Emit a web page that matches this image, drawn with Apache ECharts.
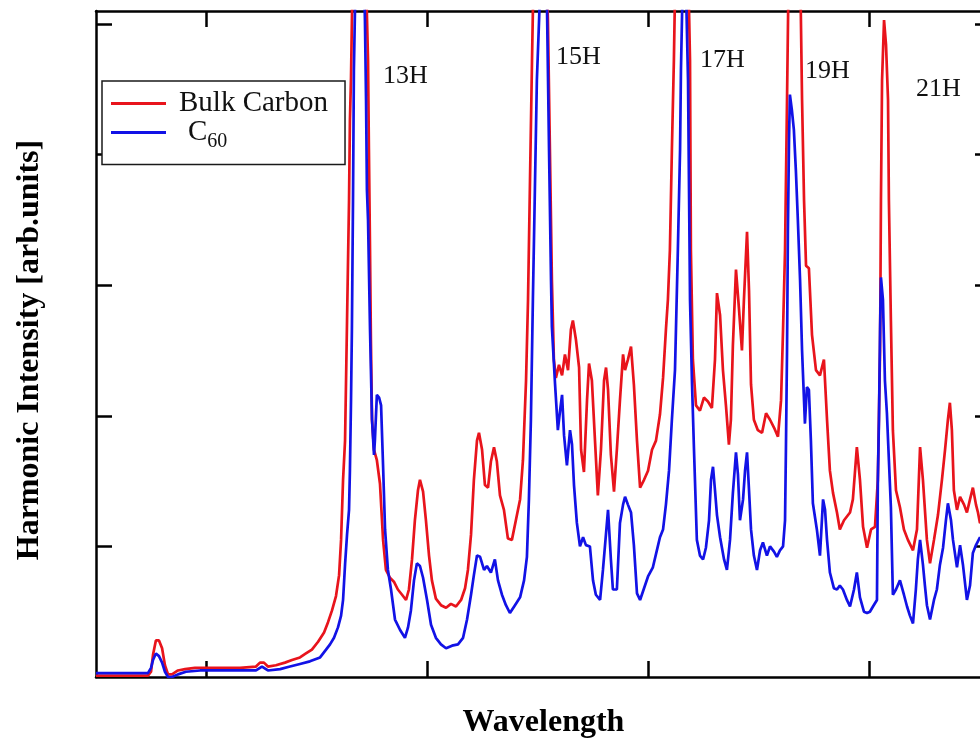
<!DOCTYPE html>
<html>
<head>
<meta charset="utf-8">
<style>
  html, body { margin: 0; padding: 0; background: #ffffff; }
  #chart { width: 980px; height: 740px; }
</style>
<script src="https://cdn.jsdelivr.net/npm/echarts@6/dist/echarts.min.js"></script>
</head>
<body>
<div id="chart"></div>
<script>
// Harmonic spectra, wavelength in nm, intensity in arbitrary units.
const bulkWl = [75.00,73.91,72.65,72.51,72.42,72.29,72.15,72.01,71.88,71.74,71.56,71.29,70.97,70.52,69.62,68.48,67.76,67.58,67.40,67.22,66.86,66.45,66.13,65.77,65.50,65.23,64.95,64.68,64.50,64.32,64.14,64.00,63.91,63.82,63.73,63.64,63.55,63.51,63.46,63.42,63.37,63.14,62.92,62.78,62.69,62.65,62.60,62.56,62.51,62.42,62.29,62.15,62.01,61.88,61.70,61.52,61.34,61.15,60.97,60.84,60.70,60.57,60.43,60.34,60.20,60.07,59.93,59.80,59.62,59.39,59.16,58.94,58.71,58.48,58.30,58.17,58.03,57.90,57.76,57.67,57.53,57.40,57.26,57.13,56.99,56.86,56.72,56.54,56.36,56.18,56.00,55.81,55.68,55.54,55.45,55.36,55.27,55.18,54.91,54.64,54.55,54.46,54.37,54.28,54.19,54.05,53.91,53.78,53.64,53.51,53.42,53.28,53.14,53.05,52.92,52.78,52.69,52.56,52.42,52.29,52.15,52.01,51.92,51.83,51.70,51.56,51.43,51.29,51.15,51.06,50.93,50.79,50.66,50.52,50.38,50.20,50.02,49.84,49.66,49.48,49.34,49.21,49.12,49.03,48.94,48.85,48.76,48.48,48.21,48.12,48.08,47.99,47.85,47.67,47.49,47.31,47.13,46.99,46.90,46.76,46.63,46.49,46.36,46.27,46.18,46.04,45.90,45.77,45.68,45.54,45.45,45.36,45.23,45.05,44.86,44.68,44.50,44.32,44.14,44.00,43.91,43.82,43.73,43.64,43.37,43.14,43.05,42.96,42.87,42.74,42.60,42.42,42.24,42.06,41.92,41.79,41.65,41.47,41.34,41.15,40.88,40.75,40.57,40.43,40.29,40.11,39.93,39.75,39.62,39.52,39.48,39.43,39.34,39.25,39.16,39.12,39.03,38.94,38.80,38.62,38.44,38.26,38.03,37.85,37.71,37.58,37.40,37.26,37.08,36.90,36.72,36.58,36.45,36.36,36.27,36.18,36.04,35.90,35.72,35.59,35.45,35.32,35.18,35.09,35.00,34.82];
const bulkInt = [0.01,0.01,0.01,0.04,0.17,0.28,0.28,0.22,0.09,0.02,0.02,0.05,0.06,0.07,0.07,0.07,0.08,0.11,0.11,0.08,0.09,0.11,0.13,0.15,0.18,0.21,0.27,0.34,0.42,0.51,0.62,0.78,1.05,1.51,1.81,2.73,3.65,4.26,4.59,5.03,5.49,6.10,5.95,5.34,4.72,4.04,3.27,2.58,1.97,1.74,1.66,1.48,1.05,0.82,0.76,0.73,0.67,0.63,0.59,0.67,0.90,1.20,1.43,1.51,1.42,1.20,0.93,0.74,0.60,0.55,0.53,0.56,0.54,0.59,0.68,0.82,1.09,1.51,1.81,1.87,1.74,1.47,1.45,1.65,1.76,1.65,1.39,1.28,1.06,1.05,1.20,1.36,1.66,2.27,2.89,3.81,4.72,5.57,5.95,5.57,5.03,4.04,3.04,2.43,2.29,2.39,2.31,2.47,2.35,2.66,2.73,2.58,2.37,1.74,1.57,2.12,2.40,2.27,1.81,1.39,1.74,2.27,2.37,2.20,1.70,1.42,1.74,2.12,2.47,2.35,2.43,2.53,2.24,1.81,1.45,1.51,1.58,1.74,1.81,2.01,2.29,2.66,2.89,3.27,4.04,4.72,5.64,6.10,5.49,4.72,3.27,2.43,2.08,2.04,2.14,2.11,2.06,2.43,2.94,2.77,2.35,2.07,1.78,1.97,2.54,3.12,2.81,2.50,2.89,3.41,2.96,2.24,1.97,1.89,1.87,2.02,1.97,1.91,1.84,2.12,2.66,3.27,4.42,5.64,6.10,5.49,4.42,3.65,3.15,3.13,2.62,2.35,2.31,2.43,1.97,1.58,1.41,1.26,1.13,1.20,1.26,1.36,1.76,1.51,1.15,0.99,1.13,1.15,1.51,2.50,3.65,4.57,5.03,4.84,4.42,3.65,2.73,1.89,1.43,1.30,1.13,1.05,0.97,1.13,1.76,1.51,1.05,0.87,1.05,1.24,1.51,1.74,1.97,2.10,1.89,1.43,1.28,1.38,1.32,1.26,1.36,1.45,1.32,1.26,1.18,1.20];

const c60Wl = [75.00,72.65,72.51,72.42,72.29,72.15,72.01,71.88,71.74,71.56,71.29,70.93,70.29,68.94,67.76,67.49,67.22,66.67,66.22,65.77,65.32,64.86,64.59,64.41,64.23,64.05,63.91,63.82,63.73,63.64,63.55,63.51,63.46,63.42,63.37,63.33,63.24,63.05,62.87,62.83,62.78,62.74,62.69,62.60,62.51,62.42,62.38,62.29,62.19,62.10,62.01,61.92,61.79,61.65,61.47,61.24,61.02,60.88,60.75,60.61,60.48,60.34,60.20,60.02,59.84,59.62,59.39,59.16,58.89,58.62,58.39,58.21,58.03,57.90,57.76,57.62,57.44,57.31,57.13,56.95,56.81,56.63,56.45,56.27,56.04,55.81,55.63,55.50,55.41,55.32,55.23,55.14,55.05,54.95,54.86,54.68,54.59,54.50,54.41,54.37,54.23,54.10,54.00,53.91,53.82,53.69,53.55,53.46,53.37,53.24,53.10,52.96,52.83,52.65,52.51,52.38,52.19,52.06,51.97,51.83,51.70,51.61,51.43,51.29,51.15,51.06,50.93,50.79,50.66,50.52,50.38,50.20,50.02,49.80,49.62,49.48,49.34,49.21,49.07,48.94,48.80,48.67,48.57,48.53,48.44,48.30,48.21,48.12,48.03,47.94,47.81,47.67,47.53,47.40,47.26,47.17,47.08,46.99,46.90,46.76,46.58,46.45,46.31,46.18,46.04,45.95,45.86,45.72,45.63,45.54,45.45,45.36,45.23,45.09,44.95,44.82,44.64,44.50,44.32,44.19,44.05,43.91,43.82,43.78,43.73,43.69,43.64,43.60,43.51,43.42,43.33,43.24,43.14,43.05,42.92,42.83,42.74,42.65,42.56,42.38,42.24,42.10,42.01,41.92,41.79,41.61,41.47,41.34,41.20,41.02,40.88,40.70,40.57,40.43,40.25,40.11,39.98,39.84,39.66,39.62,39.57,39.52,39.48,39.39,39.30,39.21,39.12,39.03,38.94,38.80,38.62,38.44,38.30,38.17,38.03,37.90,37.81,37.71,37.58,37.49,37.40,37.26,37.08,36.95,36.81,36.67,36.54,36.45,36.31,36.22,36.04,35.90,35.77,35.59,35.45,35.32,35.18,35.00,34.82];
const c60Int = [0.03,0.03,0.07,0.13,0.18,0.16,0.11,0.04,0.00,0.00,0.02,0.04,0.05,0.05,0.05,0.08,0.05,0.06,0.08,0.10,0.12,0.15,0.21,0.25,0.30,0.38,0.47,0.59,0.86,1.09,1.28,1.58,2.12,2.66,3.65,4.65,5.49,5.64,5.34,5.03,4.42,3.73,3.50,2.66,1.97,1.70,1.81,2.16,2.14,2.08,1.62,1.13,0.82,0.67,0.44,0.36,0.30,0.38,0.51,0.74,0.87,0.85,0.76,0.59,0.40,0.30,0.25,0.22,0.24,0.25,0.30,0.44,0.63,0.78,0.93,0.92,0.82,0.85,0.80,0.90,0.74,0.63,0.55,0.49,0.55,0.61,0.74,0.92,1.36,1.97,2.89,3.73,4.57,5.03,5.49,5.64,5.11,4.04,3.04,2.68,2.25,1.89,2.04,2.16,1.85,1.62,1.89,1.78,1.47,1.18,1.00,1.07,1.01,1.00,0.74,0.63,0.59,0.82,1.00,1.28,0.90,0.67,0.67,1.18,1.32,1.38,1.32,1.26,1.01,0.64,0.59,0.68,0.77,0.84,0.97,1.07,1.13,1.32,1.58,1.97,2.35,3.27,4.04,4.65,5.41,5.26,4.57,2.89,2.25,1.74,1.05,0.93,0.90,0.99,1.20,1.51,1.61,1.43,1.24,1.07,0.90,0.82,1.05,1.41,1.72,1.55,1.20,1.36,1.58,1.72,1.43,1.13,0.93,0.82,0.97,1.03,0.93,1.00,0.96,0.92,0.97,1.00,1.20,1.74,2.50,3.42,4.11,4.46,4.34,4.19,3.88,3.50,3.04,2.50,1.94,2.22,2.20,1.81,1.33,1.13,0.93,1.36,1.28,1.05,0.80,0.68,0.67,0.70,0.67,0.59,0.54,0.67,0.80,0.61,0.50,0.49,0.50,0.54,0.59,1.51,1.97,2.66,3.06,2.89,2.27,2.02,1.66,1.30,0.63,0.67,0.74,0.63,0.54,0.47,0.41,0.67,0.90,1.05,0.86,0.70,0.55,0.44,0.59,0.67,0.86,0.99,1.20,1.33,1.20,1.05,0.84,1.01,0.86,0.59,0.70,0.95,1.01,1.07,1.01];

// Frame ticks (no labels are printed on either axis)
const wlTicks = [40, 50, 60, 70];
const intTicks = [1, 2, 3, 4, 5];

// Harmonic order annotations
const harmonicNames = ['13H', '15H', '17H', '19H', '21H'];

const seriesNames = ['Bulk Carbon', 'C60'];
const seriesColors = ['#e8141c', '#1212e6'];

const zip = (xs, ys) => xs.map((x, i) => [x, ys[i]]);

const chart = echarts.init(document.getElementById('chart'), null, { renderer: 'canvas' });

const serif = '"Liberation Serif", "Times New Roman", serif';
const frameLine = { color: '#000', width: 2.5 };
const innerTick = (vals) => ({ show: true, inside: true, length: 16, customValues: vals, lineStyle: { color: '#000', width: 2.5 } });

const xBase = {
  type: 'value', min: 34.5, max: 75, inverse: true,
  axisLine: { show: true, onZero: false, lineStyle: frameLine },
  axisTick: innerTick(wlTicks),
  axisLabel: { show: false },
  splitLine: { show: false }
};
const yBase = {
  type: 'value', min: 0, max: 5.1,
  axisLine: { show: true, onZero: false, lineStyle: frameLine },
  axisTick: innerTick(intTicks),
  axisLabel: { show: false },
  splitLine: { show: false }
};

// Annotation anchor points (px)
const labelPos = [
  [383, 76], [556, 57], [700, 60], [805, 71], [916, 89]
];

chart.setOption({
  animation: false,
  backgroundColor: '#ffffff',
  // The plot frame runs a little past the right edge of the canvas.
  grid: { left: 96, width: 895, top: 11, height: 666, containLabel: false, outerBoundsMode: 'none' },
  xAxis: [
    Object.assign({}, xBase, {
      position: 'bottom',
      name: 'Wavelength', nameLocation: 'middle', nameGap: 30,
      nameTextStyle: { fontFamily: serif, fontWeight: 'bold', fontSize: 32, color: '#000' }
    }),
    Object.assign({}, xBase, { position: 'top' })
  ],
  yAxis: [
    Object.assign({}, yBase, {
      position: 'left',
      name: 'Harmonic Intensity [arb.units]', nameLocation: 'middle', nameGap: 50, nameRotate: 90,
      nameTextStyle: { fontFamily: serif, fontWeight: 'bold', fontSize: 32, color: '#000', padding: [0, 12, 0, 0] }
    }),
    Object.assign({}, yBase, { position: 'right' })
  ],
  legend: {
    orient: 'vertical', left: 102, top: 81,
    padding: [8, 17, 13, 9], itemGap: 0,
    itemWidth: 55, itemHeight: 3, icon: 'rect',
    backgroundColor: '#ffffff', borderColor: '#1a1a1a', borderWidth: 1.5, borderRadius: 0,
    data: seriesNames,
    formatter: (name) => name === 'C60' ? '{c|C}{s|60}' : '{b|' + name + '}',
    textStyle: {
      fontFamily: serif, fontSize: 29, color: '#111', padding: [0, 0, 0, 8],
      rich: {
        b: { fontFamily: serif, fontSize: 29, lineHeight: 29, color: '#111' },
        c: { fontFamily: serif, fontSize: 29, lineHeight: 29, color: '#111', padding: [0, 0, 0, 9], verticalAlign: 'middle' },
        s: { fontFamily: serif, fontSize: 20, lineHeight: 38, color: '#111', verticalAlign: 'bottom' }
      }
    }
  },
  graphic: harmonicNames.map((t, i) => ({
    type: 'text', x: labelPos[i][0], y: labelPos[i][1], z: 100,
    style: { text: t, font: '26px ' + serif, fill: '#111', verticalAlign: 'middle' }
  })),
  series: [
    {
      name: seriesNames[0], type: 'line', xAxisIndex: 0, yAxisIndex: 0,
      data: zip(bulkWl, bulkInt), showSymbol: false, clip: true,
      lineStyle: { color: seriesColors[0], width: 2.7 }, itemStyle: { color: seriesColors[0] }, z: 2
    },
    {
      name: seriesNames[1], type: 'line', xAxisIndex: 0, yAxisIndex: 0,
      data: zip(c60Wl, c60Int), showSymbol: false, clip: true,
      lineStyle: { color: seriesColors[1], width: 2.7 }, itemStyle: { color: seriesColors[1] }, z: 3
    }
  ]
});
</script>
</body>
</html>
